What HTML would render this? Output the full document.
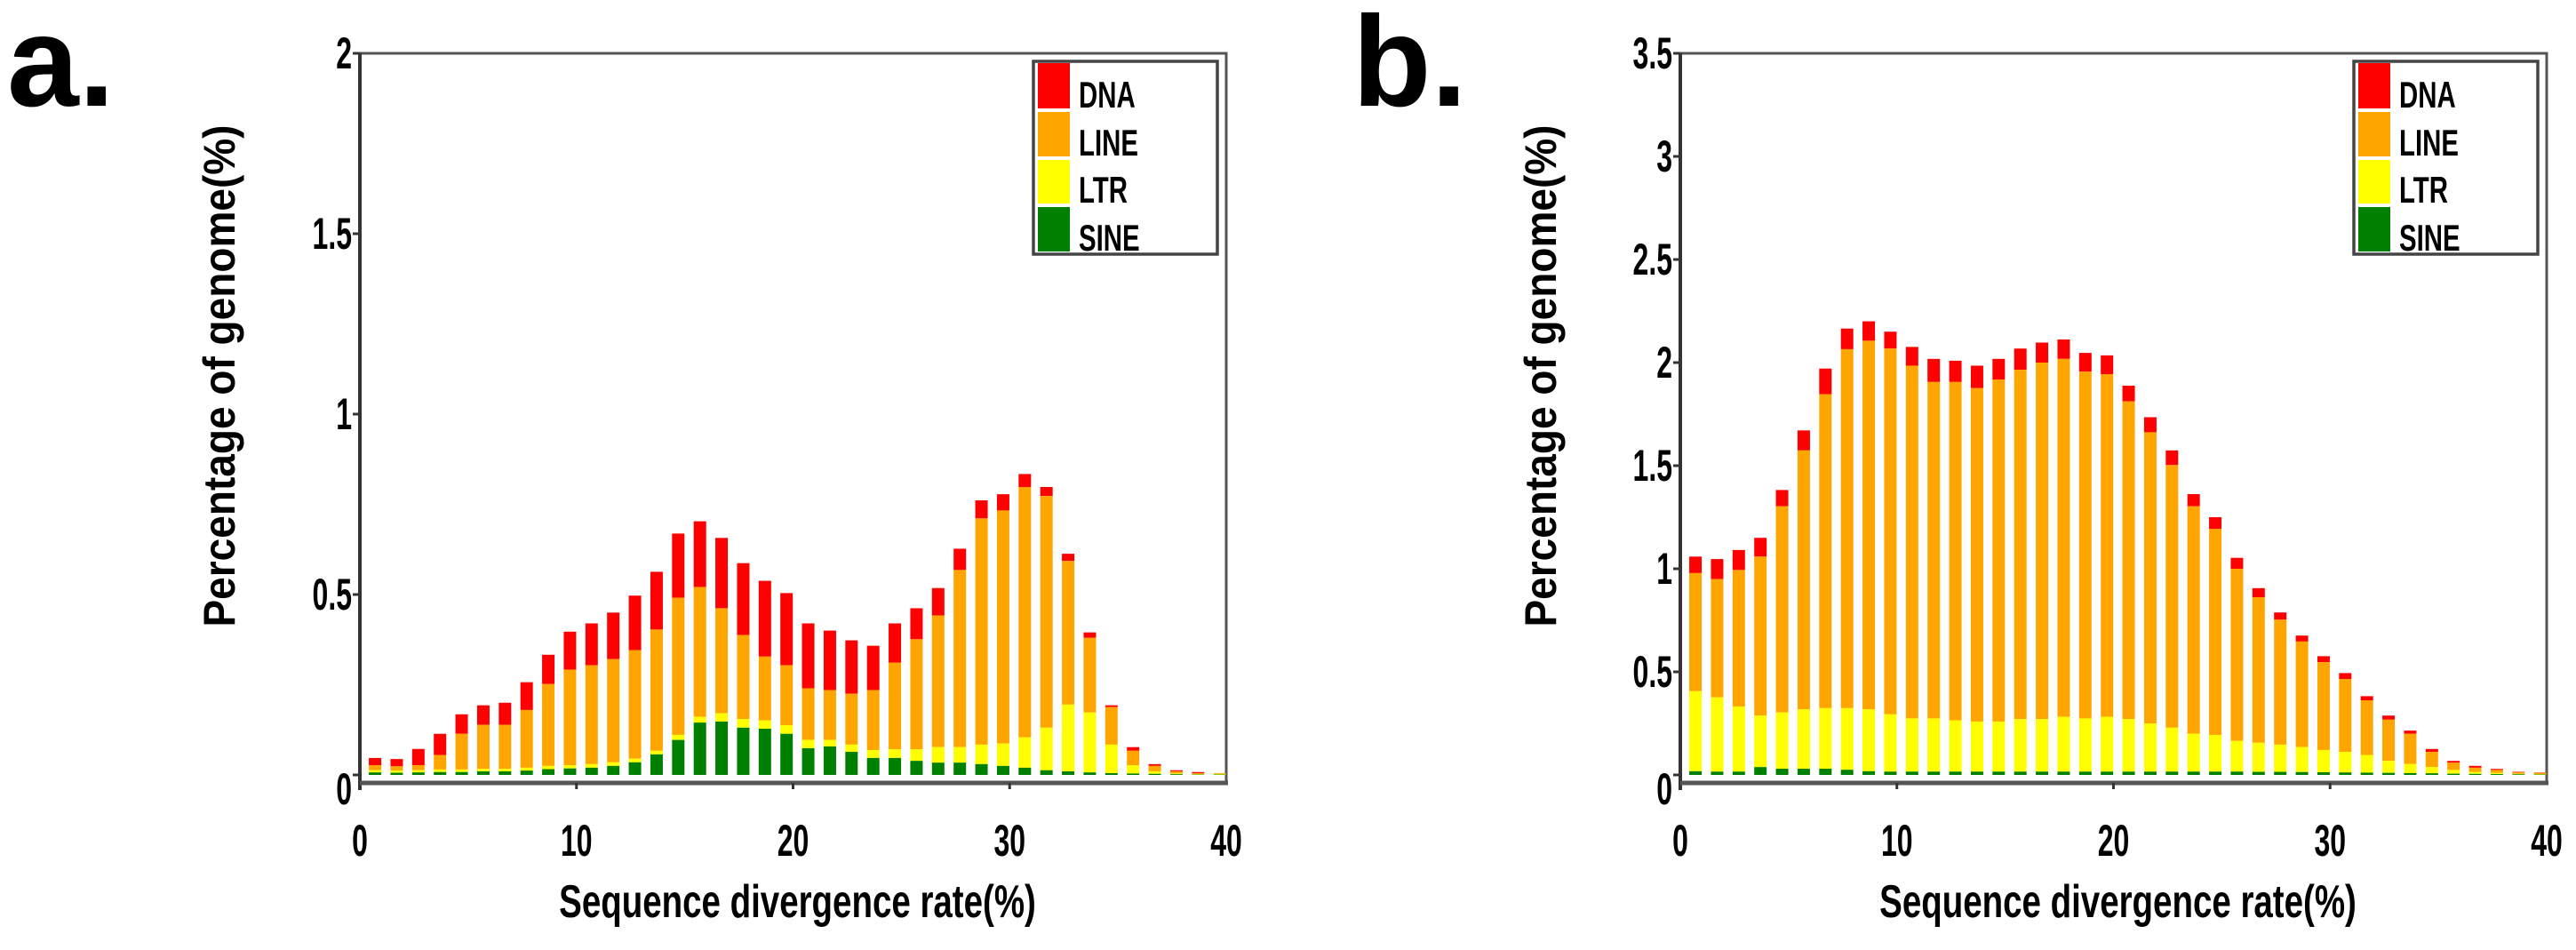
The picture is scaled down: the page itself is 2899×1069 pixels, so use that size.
<!DOCTYPE html>
<html><head><meta charset="utf-8">
<style>
html,body{margin:0;padding:0;background:#fff;}
svg{display:block;}
text{font-family:"Liberation Sans",sans-serif;font-weight:bold;fill:#000;}
</style></head>
<body>
<svg id="fig" width="2899" height="1069" viewBox="0 0 2899 1069" xmlns="http://www.w3.org/2000/svg">
<rect width="2899" height="1069" fill="#fff"/>
</svg>
<script>
const categories = [1,2,3,4,5,6,7,8,9,10,11,12,13,14,15,16,17,18,19,20,21,22,23,24,25,26,27,28,29,30,31,32,33,34,35,36,37,38,39,40];
const seriesNames = ["DNA","LINE","LTR","SINE"];
const seriesColors = ["#ff0000","#ffa500","#ffff00","#008000"];
// Panel a cumulative tops (total, LINE top, LTR top, SINE top)
const aTotal = [.047,.044,.072,.114,.168,.193,.20,.257,.333,.397,.42,.45,.497,.563,.669,.703,.657,.587,.538,.504,.42,.40,.373,.358,.42,.462,.518,.627,.761,.778,.834,.798,.613,.395,.193,.077,.03,.013,.008,.005];
const aLine = [.027,.024,.027,.055,.114,.139,.139,.18,.252,.292,.304,.321,.346,.403,.491,.521,.462,.388,.328,.304,.24,.235,.225,.235,.311,.376,.442,.568,.711,.733,.798,.773,.593,.38,.188,.067,.025,.01,.005,.004];
const aLtr = [.013,.012,.013,.015,.015,.017,.017,.02,.025,.027,.03,.035,.045,.067,.111,.161,.171,.155,.151,.138,.097,.097,.084,.069,.071,.071,.077,.077,.084,.087,.104,.131,.195,.173,.084,.027,.01,.004,.002,.004];
const aSine = [.007,.006,.007,.008,.008,.01,.01,.012,.016,.018,.02,.025,.035,.057,.097,.145,.148,.131,.128,.114,.074,.079,.064,.047,.047,.039,.034,.034,.03,.025,.02,.013,.01,.007,.005,.004,.003,.002,.001,.001];
// Panel b
const bTotal = [1.059,1.047,1.091,1.15,1.382,1.671,1.971,2.165,2.2,2.15,2.076,2.018,2.009,1.985,2.018,2.068,2.097,2.112,2.047,2.035,1.888,1.735,1.574,1.362,1.25,1.053,.906,.788,.676,.576,.494,.382,.288,.215,.126,.068,.044,.029,.015,.012];
const bLine = [.979,.95,.994,1.059,1.303,1.574,1.847,2.065,2.106,2.068,1.985,1.906,1.906,1.876,1.918,1.965,2.0,2.018,1.956,1.944,1.812,1.662,1.503,1.303,1.194,1.0,.862,.753,.647,.547,.465,.362,.268,.2,.112,.059,.035,.024,.012,.01];
const bLtr = [.406,.376,.332,.288,.303,.318,.324,.324,.318,.294,.274,.274,.265,.259,.259,.271,.271,.282,.274,.282,.271,.25,.229,.2,.194,.165,.156,.147,.135,.121,.112,.097,.068,.053,.038,.024,.015,.01,.005,.004];
const bSine = [.018,.016,.016,.038,.03,.03,.03,.025,.018,.016,.016,.016,.016,.016,.016,.016,.016,.016,.016,.016,.016,.016,.016,.016,.016,.016,.015,.015,.014,.013,.012,.011,.01,.009,.008,.006,.005,.004,.003,.002];
const aYTicks = [0,0.5,1,1.5,2];
const aYTickLabels = ["0","0.5","1","1.5","2"];
const bYTicks = [0,0.5,1,1.5,2,2.5,3,3.5];
const bYTickLabels = ["0","0.5","1","1.5","2","2.5","3","3.5"];
const xTicks = [0,10,20,30,40];
const xTickLabels = ["0","10","20","30","40"];

const NS="http://www.w3.org/2000/svg";
const svg=document.getElementById('fig');
function mk(tag,attrs,parent){const e=document.createElementNS(NS,tag);for(const k in attrs)e.setAttribute(k,attrs[k]);(parent||svg).appendChild(e);return e;}

function panel(cfg){
  const g=mk('g',{});
  
  
  const X0=cfg.x0, X1=cfg.x0+975, Ytop=60, Y0=872, Ybot=881;
  const xs=v=>X0+(v/40)*(X1-X0);
  const ys=v=>Y0-(v/cfg.ymax)*(Y0-Ytop);
  const fr=mk('path',{d:`M${X0} ${Ytop}H${X1}V${Ybot}`,fill:'none',stroke:'#555',"stroke-width":3},g);
  
  
  const stacks=[cfg.total,cfg.line,cfg.ltr,cfg.sine];
  categories.forEach((c,i)=>{
    const cx=xs(c-0.3), w=14;
    for(let s=0;s<4;s++){
      const top=stacks[s][i], bot=s<3?stacks[s+1][i]:0;
      const r=mk('rect',{x:cx-w/2,y:ys(top),width:w,height:Math.max(0,ys(bot)-ys(top)),fill:seriesColors[s]},g);
      
      
    }
  });
  const ya=mk('line',{x1:X0,y1:Ytop,x2:X0,y2:Ybot+8,stroke:'#333',"stroke-width":4},g);
  
  
  const xa=mk('line',{x1:X0,y1:Ybot,x2:X1+2,y2:Ybot,stroke:'#555',"stroke-width":5},g);
  
  
  cfg.yticks.forEach((v,i)=>{
    mk('line',{x1:X0-8,y1:ys(v),x2:X0,y2:ys(v),stroke:'#333',"stroke-width":3},g);
    const t=mk('text',{x:0,y:0,"font-size":50,"text-anchor":'end',transform:`translate(${X0-9},${ys(v)+ (v===0?33:17)}) scale(0.64,1)`},g);
    t.textContent=cfg.ylabels[i];
    
    
  });
  xTicks.forEach((v,i)=>{
    if(v>0&&v<40) mk('line',{x1:xs(v),y1:Ybot,x2:xs(v),y2:Ybot+7,stroke:'#333',"stroke-width":3},g);
    const t=mk('text',{x:0,y:0,"font-size":50,"text-anchor":'middle',transform:`translate(${xs(v)},${963}) scale(0.64,1)`},g);
    t.textContent=xTickLabels[i];
    
    
  });
  const xt=mk('text',{x:0,y:0,"font-size":52,"text-anchor":'middle',transform:`translate(${(X0+X1)/2+5},1032) scale(0.74,1)`},g);
  xt.textContent='Sequence divergence rate(%)';
  
  
  const yt=mk('text',{x:0,y:0,"font-size":50,"text-anchor":'middle',textLength:565,lengthAdjust:'spacingAndGlyphs',transform:`translate(${cfg.ytx},423) rotate(-90)`},g);
  yt.textContent='Percentage of genome(%)';
  
  
  const L=cfg.legx, lg=mk('g',{},g);
  
  
  mk('rect',{x:L,y:69,width:207,height:217,fill:'#fff',stroke:'#444',"stroke-width":3.5},lg);
  const rowY=[69,124,178,231,285];
  seriesNames.forEach((n,s)=>{
    const r=mk('rect',{x:L+5,y:rowY[s]+2,width:36,height:rowY[s+1]-rowY[s]-4,fill:seriesColors[s]},lg);
    
    
    const t=mk('text',{x:0,y:0,"font-size":42,transform:`translate(${L+51},${rowY[s+1]-3}) scale(0.7,1)`},lg);
    t.textContent=n;
    
    
  });
  const pl=mk('text',{x:cfg.lblx,y:119,"font-size":145},g);
  pl.textContent=cfg.label;
  
  
}
panel({name:'panel-a-chart',x0:405,ymax:2,total:aTotal,line:aLine,ltr:aLtr,sine:aSine,yticks:aYTicks,ylabels:aYTickLabels,ytx:264,legx:1163,label:'a.',lblx:8});
panel({name:'panel-b-chart',x0:1891,ymax:3.5,total:bTotal,line:bLine,ltr:bLtr,sine:bSine,yticks:bYTicks,ylabels:bYTickLabels,ytx:1751,legx:2649,label:'b.',lblx:1522});
</script>
</body></html>
